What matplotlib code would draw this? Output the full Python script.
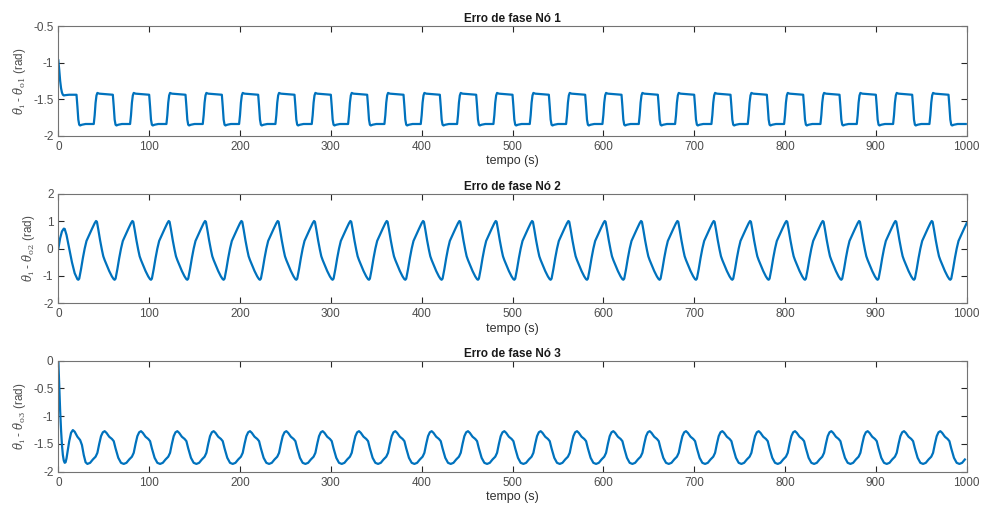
# -*- coding: utf-8 -*-

import numpy as np
import matplotlib
matplotlib.use("Agg")
import matplotlib.pyplot as plt

plt.rcParams['font.family'] = ['Liberation Sans', 'DejaVu Sans']
plt.rcParams['mathtext.fontset'] = 'dejavuserif'

"""
======================================================================================
    Dados lidos do gráfico (pontos de um período + transitório inicial)
======================================================================================
"""
# Nó 1: transitório e forma de um ciclo (começa na descida)
t_ini1 = [0, 1, 2, 3, 4, 5, 6, 8, 12, 20]
v_ini1 = [-0.97, -1.10, -1.25, -1.35, -1.41, -1.44, -1.45, -1.445, -1.44, -1.44]
off1 = [0, 1, 2, 3, 4, 6, 10, 19, 20, 21, 22, 23, 25, 30, 39.9]
val1 = [-1.44, -1.60, -1.78, -1.85, -1.86, -1.85, -1.84, -1.84, -1.72, -1.55,
        -1.45, -1.415, -1.425, -1.43, -1.44]
inicio1 = [20, 60, 100, 140, 180, 220, 260, 300, 340, 380, 420, 460, 500,
           540, 580, 620, 660, 700, 740, 780, 820, 860, 900, 940, 980]

# Nó 2: transitório e ciclo (começa no vale)
t_ini2 = [0, 2, 4, 6, 7, 9, 12, 15, 18, 21]
v_ini2 = [0.0, 0.38, 0.63, 0.73, 0.72, 0.50, 0.00, -0.50, -0.90, -1.12]
off2 = [0, 1, 3, 5, 7, 9, 12, 15, 18, 19.5, 20.5, 22, 24, 26, 27.5, 29, 31,
        34, 37, 39, 39.9]
val2 = [-1.14, -1.10, -0.75, -0.35, 0.0, 0.28, 0.50, 0.72, 0.93, 1.01, 0.98,
        0.70, 0.30, -0.05, -0.28, -0.42, -0.58, -0.82, -1.02, -1.12, -1.14]
inicio2 = [22, 62, 102, 142, 182, 222, 262, 302, 342, 382, 422, 462, 502,
           542, 582, 622, 662, 702, 742, 782, 822, 862, 902, 942, 982]

# Nó 3: transitório e ciclo (começa no vale)
t_ini3 = [0, 1, 2, 3, 4, 5, 6, 7, 8, 9, 10, 12, 14, 16, 18, 21, 24, 26, 28, 30]
v_ini3 = [0.0, -0.45, -0.90, -1.25, -1.52, -1.70, -1.80, -1.84, -1.83, -1.76,
          -1.66, -1.45, -1.30, -1.25, -1.28, -1.37, -1.43, -1.52, -1.70, -1.83]
off3 = [0, 3, 6, 9, 11, 13, 15, 17, 19, 21, 24, 27, 29, 31, 34, 37, 39.9]
val3 = [-1.86, -1.84, -1.78, -1.73, -1.66, -1.50, -1.36, -1.29, -1.27, -1.30,
        -1.37, -1.41, -1.45, -1.58, -1.75, -1.84, -1.86]
inicio3 = [32, 72, 112, 152, 192, 232, 272, 312, 352, 392, 432, 472, 512,
           552, 592, 632, 672, 712, 752, 792, 832, 872, 912, 952, 992]

titulos = ["Erro de fase Nó 1", "Erro de fase Nó 2", "Erro de fase Nó 3"]
ylabels = [r"$\theta_{\rm i}$ - $\theta_{\rm o1}$ (rad)",
           r"$\theta_{\rm i}$ - $\theta_{\rm o2}$ (rad)",
           r"$\theta_{\rm i}$ - $\theta_{\rm o3}$ (rad)"]
ylims = [(-2, -0.5), (-2, 2), (-2, 0)]
yticks = [[-2, -1.5, -1, -0.5], [-2, -1, 0, 1, 2], [-2, -1.5, -1, -0.5, 0]]
ytick_labels = [["-2", "-1.5", "-1", "-0.5"], ["-2", "-1", "0", "1", "2"],
                ["-2", "-1.5", "-1", "-0.5", "0"]]
xticks = [0, 100, 200, 300, 400, 500, 600, 700, 800, 900, 1000]


def montar(t_ini, v_ini, off, val, inicios, fim):
    t = list(t_ini)
    v = list(v_ini)
    for t0 in inicios:
        for o, y in zip(off, val):
            if t0 + o <= fim:
                t.append(t0 + o)
                v.append(y)
    return np.array(t), np.array(v)


series = [montar(t_ini1, v_ini1, off1, val1, inicio1, 999.5),
          montar(t_ini2, v_ini2, off2, val2, inicio2, 1000),
          montar(t_ini3, v_ini3, off3, val3, inicio3, 1000)]

"""
======================================================================================
    Gráfico
======================================================================================
"""
fig = plt.figure(figsize=(9.82, 5.14), dpi=100)
posicoes = [[0.0594, 0.736, 0.925, 0.2134],
            [0.0594, 0.410, 0.925, 0.2127],
            [0.0594, 0.0823, 0.925, 0.216]]

for i in range(3):
    ax = fig.add_axes(posicoes[i])
    t, v = series[i]
    ax.plot(t, v, color='#0072BD', linewidth=1.6)
    ax.set_xlim(0, 1000)
    ax.set_ylim(*ylims[i])
    ax.set_xticks(xticks)
    ax.set_yticks(yticks[i])
    ax.set_yticklabels(ytick_labels[i])
    ax.tick_params(direction='in', top=True, right=True, length=4,
                   width=0.8, colors='0.15', labelsize=8.5, labelcolor='0.3')
    for s in ax.spines.values():
        s.set_color('0.45')
        s.set_linewidth(0.8)
    ax.set_title(titulos[i], fontsize=8.5, fontweight='bold', pad=3,
                 color='0.1')
    ax.set_xlabel("tempo (s)", fontsize=9, color='0.2', labelpad=2)
    ax.set_ylabel(ylabels[i], fontsize=8.5, color='0.3', labelpad=4)

plt.savefig("out.png", dpi=100)
